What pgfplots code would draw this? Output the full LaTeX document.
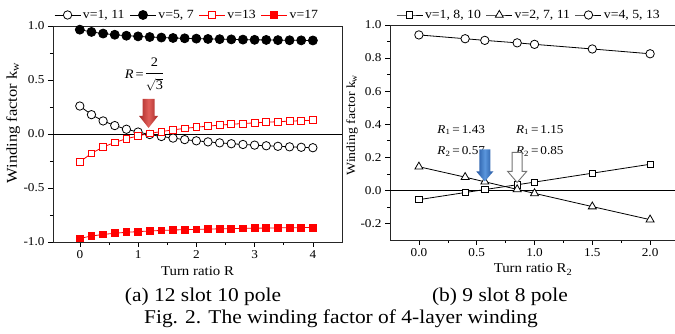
\documentclass[border=0pt]{standalone}
\usepackage{amsmath}
\usepackage{fontspec}
\setmainfont{Liberation Serif}[FakeStretch=1.1]
\usepackage{pgfplots}
\pgfplotsset{compat=1.18}
\usetikzlibrary{calc}
\definecolor{redD}{RGB}{165,40,38}
\definecolor{redL}{RGB}{225,95,90}
\definecolor{bluD}{RGB}{35,85,160}
\definecolor{bluL}{RGB}{90,150,220}
\pgfplotsset{
  mystyle/.style={
    scale only axis, width=289pt,
    tick align=outside, tick pos=left,
    major tick length=5pt, minor tick length=3pt,
    every tick/.style={black, line width=0.6pt},
    axis line style={black!85, line width=0.7pt},
    tick label style={font=\fontsize{12}{12}\selectfont},
    label style={font=\fontsize{13.5}{14}\selectfont},
    legend columns=4,
    legend style={draw=none, fill=none, inner sep=0pt, font=\fontsize{12.5}{13}\selectfont,
      /tikz/every even column/.append style={column sep=3pt}},
    legend image code/.code={\draw[mark repeat=2,mark phase=2] plot coordinates {(0pt,0pt)(13pt,0pt)(26pt,0pt)};},
  },
  ser/.style={line width=0.8pt, mark options={line width=0.8pt, solid}},
}
\begin{document}
\begin{tikzpicture}
% ---------------- (a) 12 slot 10 pole ----------------
\begin{axis}[mystyle, at={(53pt,92pt)}, anchor=south west, height=216pt,
  xmin=-0.46, xmax=4.5, ymin=-1, ymax=1,
  xtick={0,1,2,3,4}, xticklabels={0,1,2,3,4},
  ytick={-1,-0.5,0,0.5,1}, yticklabels={-1.0,-0.5,0.0,0.5,1.0},
  minor x tick num=1, minor y tick num=1,
  xlabel={Turn ratio R}, ylabel={Winding factor k\textsubscript{w}},
  xlabel style={at={(axis description cs:0.5,-0.153)}, anchor=base},
  ylabel style={at={(axis description cs:-0.138,0.551)}, anchor=center, font=\fontsize{15}{15}\selectfont},
  legend style={at={(axis description cs:0.464,1.051)}, anchor=center},
]
\draw[line width=0.6pt] (axis cs:-0.46,0) -- (axis cs:4.5,0);
\addplot[ser, black, mark=*, mark size=4.2pt, mark options={fill=white}] coordinates {
(0,0.259)(0.2,0.179)(0.4,0.121)(0.6,0.078)(0.8,0.044)(1.0,0.018)(1.2,-0.005)(1.4,-0.023)(1.6,-0.038)(1.8,-0.052)(2.0,-0.063)(2.2,-0.073)(2.4,-0.082)(2.6,-0.090)(2.8,-0.097)(3.0,-0.103)(3.2,-0.109)(3.4,-0.114)(3.6,-0.119)(3.8,-0.123)(4.0,-0.127)};
\addlegendentry{v=1, 11}
\addplot[ser, black, mark=*, mark size=4.5pt, mark options={fill=black}] coordinates {
(0,0.966)(0.2,0.945)(0.4,0.930)(0.6,0.919)(0.8,0.910)(1.0,0.904)(1.2,0.898)(1.4,0.893)(1.6,0.889)(1.8,0.886)(2.0,0.883)(2.2,0.880)(2.4,0.878)(2.6,0.876)(2.8,0.874)(3.0,0.872)(3.2,0.871)(3.4,0.869)(3.6,0.868)(3.8,0.867)(4.0,0.866)};
\addlegendentry{v=5, 7}
\addplot[ser, red, mark=square*, mark size=3.4pt, mark options={fill=white}] coordinates {
(0,-0.259)(0.2,-0.179)(0.4,-0.121)(0.6,-0.078)(0.8,-0.044)(1.0,-0.018)(1.2,0.005)(1.4,0.023)(1.6,0.038)(1.8,0.052)(2.0,0.063)(2.2,0.073)(2.4,0.082)(2.6,0.090)(2.8,0.097)(3.0,0.103)(3.2,0.109)(3.4,0.114)(3.6,0.119)(3.8,0.123)(4.0,0.127)};
\addlegendentry{v=13}
\addplot[ser, red, mark=square*, mark size=3.4pt, mark options={fill=red}] coordinates {
(0,-0.966)(0.2,-0.945)(0.4,-0.930)(0.6,-0.919)(0.8,-0.910)(1.0,-0.904)(1.2,-0.898)(1.4,-0.893)(1.6,-0.889)(1.8,-0.886)(2.0,-0.883)(2.2,-0.880)(2.4,-0.878)(2.6,-0.876)(2.8,-0.874)(3.0,-0.872)(3.2,-0.871)(3.4,-0.869)(3.6,-0.868)(3.8,-0.867)(4.0,-0.866)};
\addlegendentry{v=17}
\node[font=\fontsize{13}{13}\selectfont, inner sep=0pt] at (axis cs:1.10,0.545) {\textit{R}\,=\,\begin{tabular}[c]{@{}c@{}}2\\[3pt]\hline\rule{0pt}{16pt}$\sqrt{\text{3}}$\end{tabular}};
\coordinate (tipA) at (axis cs:1.18,0.056);
\end{axis}
% ---------------- (b) 9 slot 8 pole ----------------
\begin{axis}[mystyle, at={(390pt,94pt)}, anchor=south west, height=215pt,
  xmin=-0.25, xmax=2.25, ymin=-0.3, ymax=1,
  xtick={0,0.5,1,1.5,2}, xticklabels={0.0,0.5,1.0,1.5,2.0},
  ytick={-0.2,0,0.2,0.4,0.6,0.8,1.0}, yticklabels={-0.2,0.0,0.2,0.4,0.6,0.8,1.0},
  minor x tick num=1, minor y tick num=1,
  xlabel={Turn ratio R\textsubscript{2}}, ylabel={Winding factor k\textsubscript{w}},
  xlabel style={at={(axis description cs:0.495,-0.153)}, anchor=base},
  ylabel style={at={(axis description cs:-0.131,0.535)}, anchor=center, font=\fontsize{12.5}{13}\selectfont},
  legend style={at={(axis description cs:0.481,1.0465)}, anchor=center},
]
\draw[line width=0.6pt] (axis cs:-0.25,0) -- (axis cs:2.25,0);
\addplot[ser, black, mark=square*, mark size=3.2pt, mark options={fill=white}] coordinates {
(0,-0.056)(0.4,-0.013)(0.57,0.005)(0.85,0.034)(1.0,0.050)(1.5,0.104)(2.0,0.158)};
\addlegendentry{v=1, 8, 10}
\addplot[ser, black, mark=triangle*, mark size=4.6pt, mark options={fill=white}] coordinates {
(0,0.143)(0.4,0.080)(0.57,0.052)(0.85,0.006)(1.0,-0.018)(1.5,-0.098)(2.0,-0.177)};
\addlegendentry{v=2, 7, 11}
\addplot[ser, black, mark=*, mark size=4.2pt, mark options={fill=white}] coordinates {
(0,0.940)(0.4,0.917)(0.57,0.907)(0.85,0.892)(1.0,0.883)(1.5,0.855)(2.0,0.826)};
\addlegendentry{v=4, 5, 13}
\node[anchor=west, font=\fontsize{12}{12}\selectfont] at (axis cs:0.13,0.365) {\textit{R}\textsubscript{1}\,=\,1.43};
\node[anchor=west, font=\fontsize{12}{12}\selectfont] at (axis cs:0.13,0.234) {\textit{R}\textsubscript{2}\,=\,0.57};
\node[anchor=west, font=\fontsize{12}{12}\selectfont] at (axis cs:0.81,0.365) {\textit{R}\textsubscript{1}\,=\,1.15};
\node[anchor=west, font=\fontsize{12}{12}\selectfont] at (axis cs:0.81,0.234) {\textit{R}\textsubscript{2}\,=\,0.85};
\coordinate (tipB) at (axis cs:0.57,0.054);
\coordinate (tipC) at (axis cs:0.85,0.048);
\end{axis}
% arrows
\path[shift={(tipA)}, left color=redD, right color=redD, middle color=redL]
  (-6pt,29pt) -- (6pt,29pt) -- (6pt,12pt) -- (9.5pt,12pt) -- (0pt,0pt) -- (-9.5pt,12pt) -- (-6pt,12pt) -- cycle;
\path[shift={(tipB)}, left color=bluD, right color=bluD, middle color=bluL]
  (-5.5pt,32pt) -- (5.5pt,32pt) -- (5.5pt,10pt) -- (8.5pt,10pt) -- (0pt,0pt) -- (-8.5pt,10pt) -- (-5.5pt,10pt) -- cycle;
\draw[shift={(tipC)}, fill=white, draw=black!55, line width=0.9pt]
  (-5pt,30pt) -- (5pt,30pt) -- (5pt,11pt) -- (9.5pt,11pt) -- (0pt,0pt) -- (-9.5pt,11pt) -- (-5pt,11pt) -- cycle;
% captions
\node[anchor=base, font=\fontsize{19.5}{20}\selectfont] at (203pt,32pt) {(a) 12 slot 10 pole};
\node[anchor=base, font=\fontsize{19.5}{20}\selectfont] at (500pt,32pt) {(b) 9 slot 8 pole};
\node[anchor=base, font=\fontsize{19.5}{20}\selectfont] at (341pt,10pt) {Fig. 2. The winding factor of 4-layer winding};
\pgfresetboundingbox
\path[use as bounding box] (0pt,0pt) rectangle (675pt,334pt);
\end{tikzpicture}
\end{document}
